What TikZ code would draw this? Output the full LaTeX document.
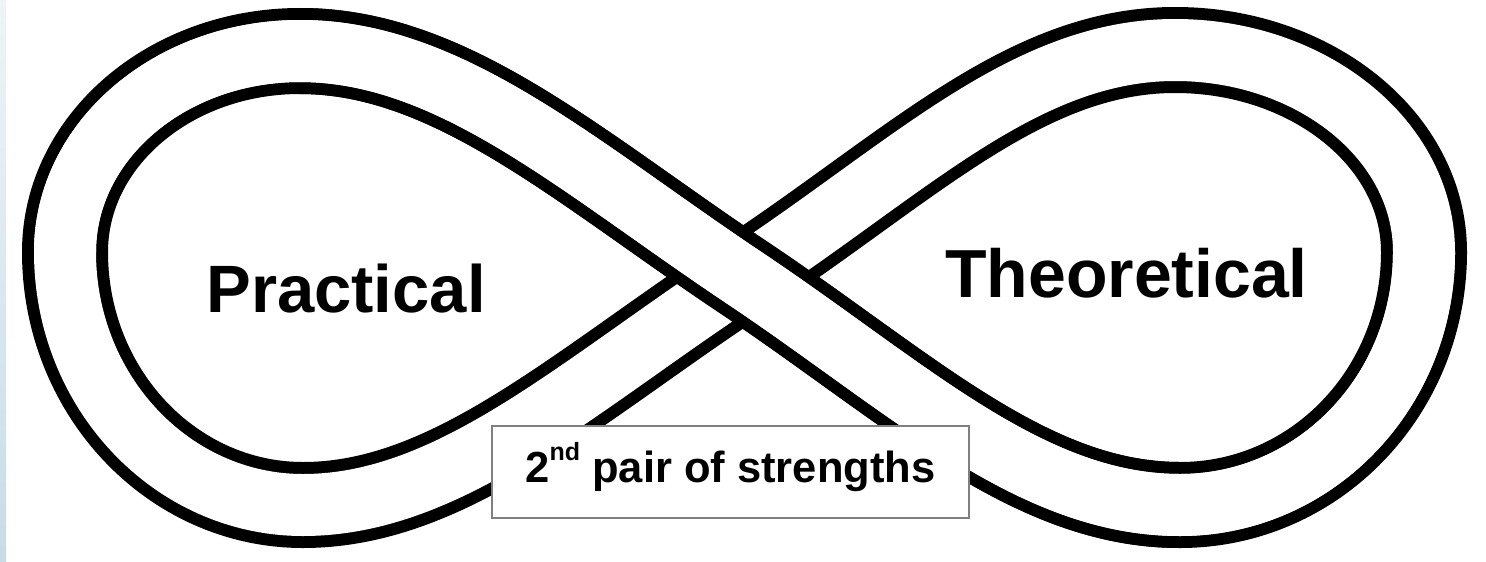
\documentclass[tikz,border=0pt]{standalone}
\usepackage{fontspec}
\setmainfont{Liberation Sans}
\definecolor{boxgray}{RGB}{128,128,128}
\definecolor{stripTop}{RGB}{238,244,247}
\definecolor{stripBot}{RGB}{198,220,230}
\begin{document}
\begin{tikzpicture}[x=1pt,y=-1pt,
  ribbon/.style={draw=black, line width=12pt, double=white, double distance=62pt},
  ribbonfill/.style={draw=white, line width=62pt},
  loopname/.style={font=\bfseries\fontsize{67}{80}\selectfont, inner sep=0pt, anchor=base},
  box/.style={draw=boxgray, line width=2pt, fill=white, inner sep=0pt,
    minimum width=477pt, minimum height=92pt, text height=30pt, text depth=10pt,
    font=\bfseries\fontsize{43.5}{50}\selectfont}]
\fill[white] (0,0) rectangle (1486,562);
\useasboundingbox (0,0) rectangle (1486,562);
\shade[top color=stripTop, bottom color=stripBot] (0,0) rectangle (6,562);

\coordinate (C)  at (743,277);
\coordinate (TL) at (300,51);
\coordinate (L)  at (65,252);
\coordinate (BL) at (303,505);
\coordinate (TR) at (1175,50);
\coordinate (R)  at (1424,252);
\coordinate (BR) at (1180,505);

% whole ribbon
\draw[ribbon] (C) .. controls (577,166) and (450,51) .. (TL)
  .. controls (170,51) and (65,141) .. (L)
  .. controls (65,392) and (172,505) .. (BL)
  .. controls (450,505) and (576,387) .. (C)
  .. controls (910,167) and (1025,50) .. (TR)
  .. controls (1312,50) and (1424,140) .. (R)
  .. controls (1424,392) and (1315,505) .. (BR)
  .. controls (1030,505) and (909,388) .. (C);
% strand on top at the crossing
\draw[ribbon] (BR) .. controls (1030,505) and (909,388) .. (C)
  .. controls (577,166) and (450,51) .. (TL);
% clean joins
\draw[ribbonfill] (R) .. controls (1424,392) and (1315,505) .. (BR)
  .. controls (1030,505) and (909,388) .. (C)
  .. controls (577,166) and (450,51) .. (TL)
  .. controls (170,51) and (65,141) .. (L);

\node[loopname] (prac) at (346,312) {Practical};
\node[loopname, font=\bfseries\fontsize{68}{80}\selectfont] (theo) at (1126.5,297) {Theoretical};
\node[box] (pair) at (730.5,472) {2\raisebox{22pt}{\fontsize{25}{25}\selectfont nd} pair of strengths};
\end{tikzpicture}
\end{document}
